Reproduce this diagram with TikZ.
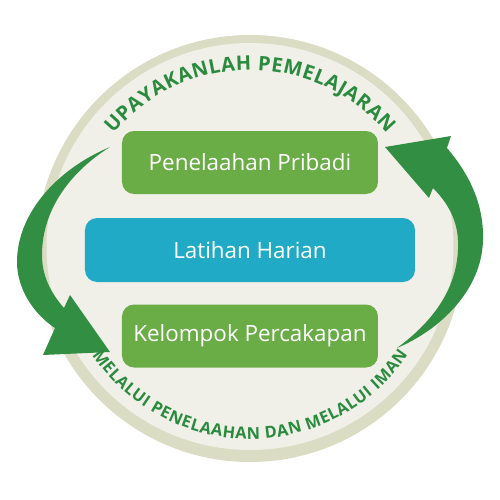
\documentclass[tikz,border=0pt]{standalone}
\usepackage{fontspec}
\setmainfont{Open Sans}
\usetikzlibrary{decorations.text}
\definecolor{ringc}{HTML}{DADCC3}
\definecolor{discc}{HTML}{F1F0E8}
\definecolor{boxgreen}{HTML}{6AAC46}
\definecolor{boxblue}{HTML}{21AAC6}
\definecolor{arrowgreen}{HTML}{318E43}
\definecolor{textgreen}{HTML}{2A8A3E}
\tikzset{
  stepbox/.style={rounded corners=6pt, inner sep=0pt, text=white,
    font=\fontsize{11.2}{13}\selectfont, minimum height=31.5pt},
  cycarrow/.style={fill=arrowgreen, draw=none},
}
\begin{document}
\begin{tikzpicture}[x=0.5pt,y=0.5pt]
\useasboundingbox[fill=white] (0,0) rectangle (500,500);
% circle
\fill[ringc] (250,251.5) circle[radius=106.75pt];
\fill[discc] (250,253.5) circle[radius=101.75pt];
% boxes
\node[stepbox, fill=boxgreen, minimum width=128pt] (pribadi) at (250,337.5) {Penelaahan Pribadi};
\node[stepbox, fill=boxblue, minimum width=165pt, minimum height=32pt] (harian) at (250,250) {Latihan Harian};
\node[stepbox, fill=boxgreen, minimum width=128pt] (kelompok) at (250,164) {Kelompok Percakapan};
% left arrow
\fill[cycarrow] (110,353) .. controls (55,330) and (17,285) .. (17,238)
  .. controls (17,210) and (35,185) .. (55,172)
  -- (43,145) -- (110,148) -- (70,205) -- (64,192)
  .. controls (50,208) and (42,225) .. (42,245)
  .. controls (42,290) and (70,328) .. (110,353) -- cycle;
% right arrow
\fill[cycarrow] (397,152) .. controls (440,170) and (482,210) .. (483,260)
  .. controls (484,295) and (470,325) .. (447,352)
  -- (451,364) -- (385,353) -- (429,302) -- (433,312)
  .. controls (448,297) and (457,280) .. (458,260)
  .. controls (460,215) and (435,180) .. (397,152) -- cycle;
% curved texts
\path[decorate, decoration={text along path, text color=textgreen,
   text={|\fontsize{10}{12}\bfseries\selectfont|UPAYAKANLAH PEMELAJARAN},
   text align=fit to path}]
  (250,251.5) ++(140:89.25pt) arc[start angle=140, end angle=40, radius=89.25pt];
\path[decorate, decoration={text along path, text color=textgreen,
   text={|\fontsize{8.2}{10}\bfseries\selectfont|MELALUI PENELAAHAN DAN MELALUI IMAN},
   text align=fit to path}]
  (250,251.5) ++(214:95.25pt) arc[start angle=214, end angle=326, radius=95.25pt];
\end{tikzpicture}
\end{document}
